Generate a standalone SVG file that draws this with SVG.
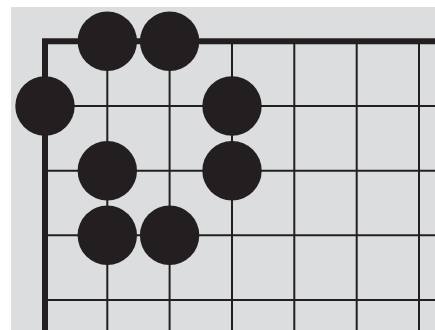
<svg xmlns="http://www.w3.org/2000/svg" width="435" height="330" viewBox="0 0 435 330">
<style>
.thin{stroke:#231f20;stroke-width:2;fill:none}
.thick{stroke:#231f20;stroke-width:6;fill:none}
.stone{fill:#231f20}
</style>
<rect x="0" y="0" width="435" height="330" fill="#ffffff"/>
<rect x="11" y="7" width="424" height="323" fill="#dcdddf"/>
<g id="grid">
<g class="thin">
<line x1="107.3" y1="41.3" x2="107.3" y2="330"/>
<line x1="169.6" y1="41.3" x2="169.6" y2="330"/>
<line x1="232" y1="41.3" x2="232" y2="330"/>
<line x1="294.3" y1="41.3" x2="294.3" y2="330"/>
<line x1="356.7" y1="41.3" x2="356.7" y2="330"/>
<line x1="419" y1="41.3" x2="419" y2="330"/>
<line x1="45" y1="106" x2="435" y2="106"/>
<line x1="45" y1="170.7" x2="435" y2="170.7"/>
<line x1="45" y1="235.3" x2="435" y2="235.3"/>
<line x1="45" y1="300" x2="435" y2="300"/>
</g>
<path class="thick" d="M45 330 V41.3 H435" stroke-linecap="square"/>
</g>
<g id="stones">
<circle id="s1" class="stone" cx="107.3" cy="41.3" r="29.7"/>
<circle id="s2" class="stone" cx="169.6" cy="41.3" r="29.7"/>
<circle id="s3" class="stone" cx="45" cy="106" r="29.7"/>
<circle id="s4" class="stone" cx="232" cy="106" r="29.7"/>
<circle id="s5" class="stone" cx="107.3" cy="170.7" r="29.7"/>
<circle id="s6" class="stone" cx="232" cy="170.7" r="29.7"/>
<circle id="s7" class="stone" cx="107.3" cy="235.3" r="29.7"/>
<circle id="s8" class="stone" cx="169.6" cy="235.3" r="29.7"/>
</g>
</svg>
